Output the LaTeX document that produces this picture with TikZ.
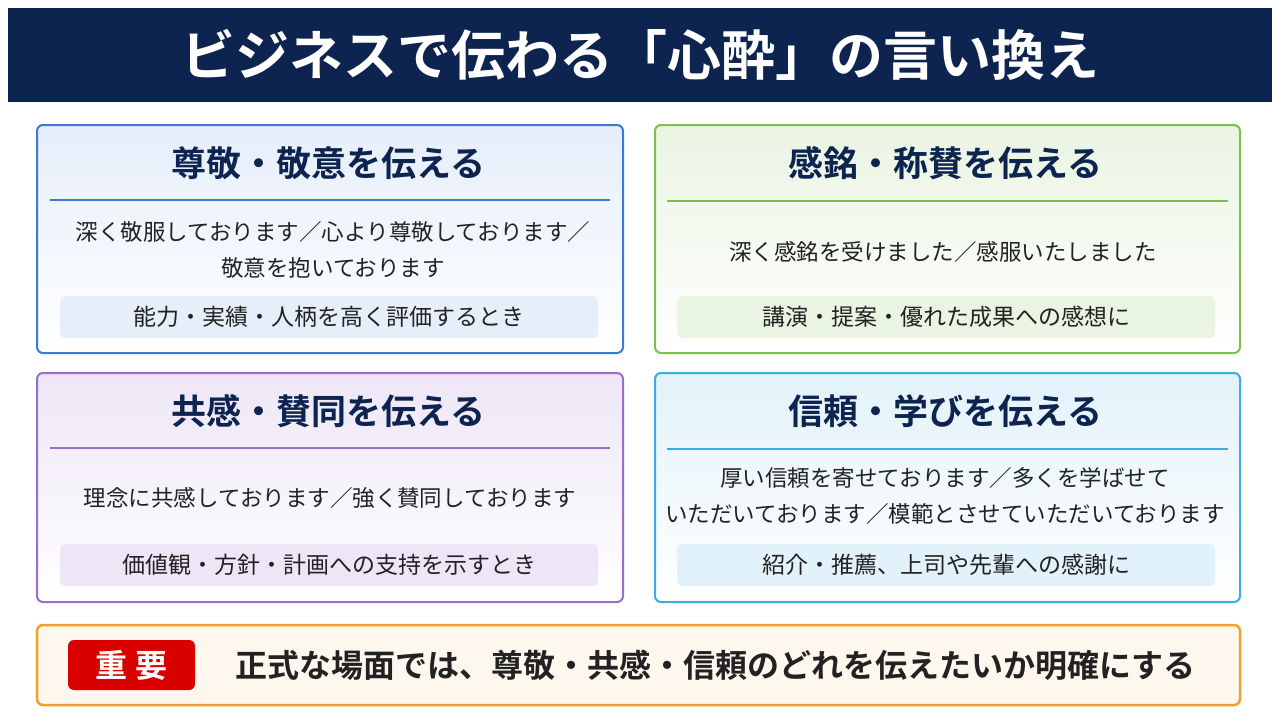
\documentclass[tikz,border=0pt]{standalone}
\usepackage{fontspec}
\setmainfont{Noto Sans CJK JP}
\newfontfamily\jpb{Noto Sans CJK JP Bold}
\definecolor{navy}{HTML}{0D2350}
\definecolor{cb}{HTML}{3A7BD5}\definecolor{cbl}{HTML}{E6EEFA}
\definecolor{cg}{HTML}{7CC04B}\definecolor{cgl}{HTML}{EAF4E2}
\definecolor{cp}{HTML}{9B6DCC}\definecolor{cpl}{HTML}{EEE6F6}
\definecolor{cc}{HTML}{3AAEDC}\definecolor{ccl}{HTML}{E2F2FA}
\definecolor{co}{HTML}{F0A030}\definecolor{txt}{HTML}{222222}
\tikzset{
 card/.style={draw=#1,line width=2pt,rounded corners=6pt,top color=#1l,bottom color=white,middle color=white},
 head/.style={font=\jpb\fontsize{35}{38}\selectfont,text=navy,anchor=center},
 body/.style={font=\fontsize{22.5}{36}\selectfont,text=txt,align=center,anchor=center},
 tag/.style={fill=#1,rounded corners=5pt,minimum width=538pt,minimum height=42pt,font=\fontsize{23}{26}\selectfont,text=txt,inner sep=0pt}
}
\begin{document}
\begin{tikzpicture}[x=1pt,y=-1pt]
\useasboundingbox (0,0) rectangle (1280,720);
\fill[white] (0,0) rectangle (1280,720);
\node[fill=navy,minimum width=1264pt,minimum height=94pt,inner sep=0pt] (tb) at (640,55) {};
\node[font=\jpb\fontsize{54}{58}\selectfont,text=white] (title) at (640,55) {ビジネスで伝わる「心酔」の言い換え};
% cards
\node[card=cb,minimum width=586pt,minimum height=228pt,inner sep=0pt,top color=cbl] (c1) at (330,239) {};
\node[card=cg,minimum width=585pt,minimum height=228pt,inner sep=0pt,top color=cgl] (c2) at (947.5,239) {};
\node[card=cp,minimum width=586pt,minimum height=229pt,inner sep=0pt,top color=cpl] (c3) at (330,487.5) {};
\node[card=cc,minimum width=585pt,minimum height=229pt,inner sep=0pt,top color=ccl] (c4) at (947.5,487.5) {};
% headings
\node[head] (h1) at (328,163) {尊敬・敬意を伝える};
\node[head] (h2) at (945,163) {感銘・称賛を伝える};
\node[head] (h3) at (328,411) {共感・賛同を伝える};
\node[head] (h4) at (945,411) {信頼・学びを伝える};
\draw[cb,line width=1.2pt] (50,200) -- (610,200);
\draw[cg,line width=1.2pt] (667,201) -- (1228,201);
\draw[cp,line width=1.2pt] (50,448) -- (610,448);
\draw[cc,line width=1.2pt] (667,449) -- (1228,449);
% bodies
\node[body] (b1) at (333,250) {深く敬服しております／心より尊敬しております／\\敬意を抱いております};
\node[body] (b2) at (943,252) {深く感銘を受けました／感服いたしました};
\node[body] (b3) at (330,498) {理念に共感しております／強く賛同しております};
\node[body] (b4) at (945,496) {厚い信頼を寄せております／多くを学ばせて\\いただいております／模範とさせていただいております};
% tags
\node[tag=cbl] (t1) at (329,317) {能力・実績・人柄を高く評価するとき};
\node[tag=cgl] (t2) at (946,317) {講演・提案・優れた成果への感想に};
\node[tag=cpl] (t3) at (329,565) {価値観・方針・計画への支持を示すとき};
\node[tag=ccl] (t4) at (946,565) {紹介・推薦、上司や先輩への感謝に};
% bottom
\node[draw=co,line width=2.5pt,fill=co!8,rounded corners=6pt,minimum width=1203pt,minimum height=80pt,inner sep=0pt] (bb) at (638.5,665) {};
\node[fill=red!85!black,rounded corners=6pt,minimum width=127pt,minimum height=50pt,inner sep=0pt,text=white,font=\jpb\fontsize{32}{34}\selectfont] (imp) at (131.5,665) {重 要};
\node[font=\jpb\fontsize{32}{36}\selectfont,text=txt,anchor=west] (msg) at (232,665) {正式な場面では、尊敬・共感・信頼のどれを伝えたいか明確にする};
\end{tikzpicture}
\end{document}
